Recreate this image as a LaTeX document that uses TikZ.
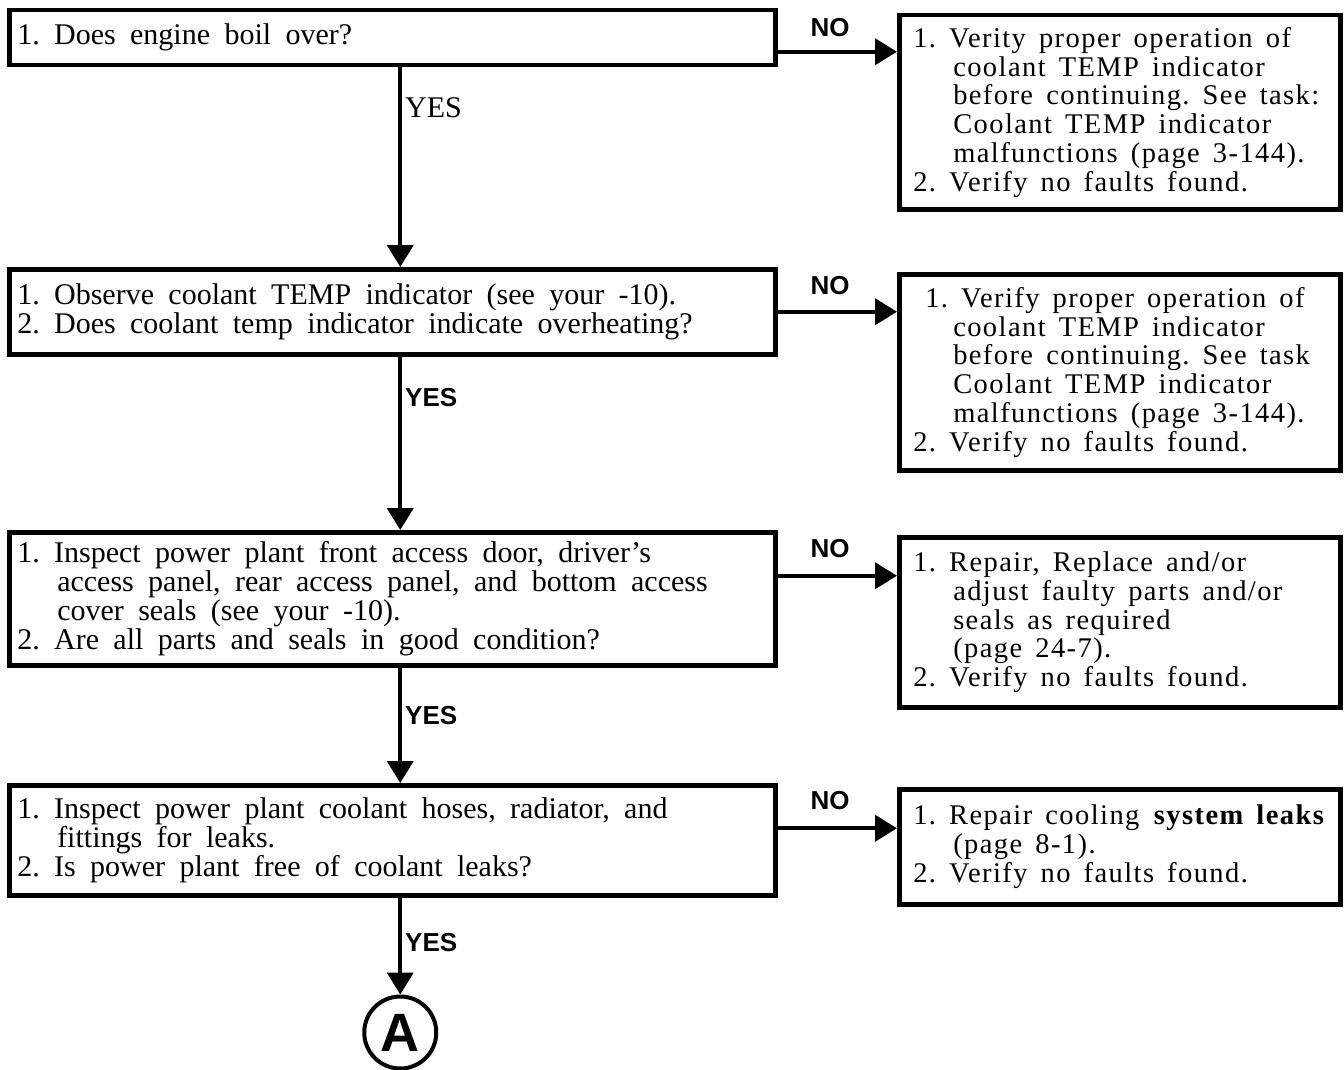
\documentclass[tikz,border=0pt]{standalone}
\usepackage{fontspec}
\setmainfont{Liberation Serif}
\setsansfont{Liberation Sans}
\newfontfamily\ansfamily[LetterSpace=5]{Liberation Serif}
\usetikzlibrary{arrows.meta,calc,positioning}
\frenchspacing
\newcommand{\qfont}{\fontsize{30}{29}\selectfont}
\newcommand{\afont}{\ansfamily\fontsize{28.5}{28.8}\selectfont}
\newcommand{\hind}{\hspace*{40pt}}
\tikzset{
  qbox/.style={draw,line width=4.5pt,anchor=north west,inner xsep=8pt,
    text width=750pt,align=left,font=\qfont,
    execute at begin node={\spaceskip=.48em\relax}},
  abox/.style={draw,line width=4.5pt,anchor=north west,inner xsep=14pt,
    text width=413pt,align=left,font=\afont,
    execute at begin node={\spaceskip=.46em\relax}},
  arr/.style={line width=4pt,-{Triangle[length=22pt,width=26pt]}},
  lbl/.style={font=\sffamily\bfseries\fontsize{26}{26}\selectfont,inner sep=0pt},
}

\begin{document}
\begin{tikzpicture}[x=1pt,y=-1pt]
  \useasboundingbox (0,0) rectangle (1344,1070);

  % questions
  \node[qbox,minimum height=55pt] (q1) at (7,8) {1. Does engine boil over?};
  \node[qbox,minimum height=85pt] (q2) at (7,267)
    {1. Observe coolant TEMP indicator (see your -10).\\
     2. Does coolant temp indicator indicate overheating?};
  \node[qbox,minimum height=133pt] (q3) at (7,530)
    {1. Inspect power plant front access door, driver’s\\
     \hind access panel, rear access panel, and bottom access\\
     \hind cover seals (see your -10).\\
     2. Are all parts and seals in good condition?};
  \node[qbox,minimum height=110pt] (q4) at (7,783)
    {1. Inspect power plant coolant hoses, radiator, and\\
     \hind fittings for leaks.\\
     2. Is power plant free of coolant leaks?};

  % answers
  \node[abox,minimum height=194pt] (r1) at (897,13)
    {1. Verity proper operation of\\
     \hind coolant TEMP indicator\\
     \hind before continuing. See task:\\
     \hind Coolant TEMP indicator\\
     \hind malfunctions (page 3-144).\\
     2. Verify no faults found.};
  \node[abox,minimum height=196pt] (r2) at (897,272)
    {\hspace*{12pt}1. Verify proper operation of\\
     \hind coolant TEMP indicator\\
     \hind before continuing. See task\\
     \hind Coolant TEMP indicator\\
     \hind malfunctions (page 3-144).\\
     2. Verify no faults found.};
  \node[abox,minimum height=170pt] (r3) at (897,535)
    {1. Repair, Replace and/or\\
     \hind adjust faulty parts and/or\\
     \hind seals as required\\
     \hind (page 24-7).\\
     2. Verify no faults found.};
  \node[abox,minimum height=115pt] (r4) at (897,787)
    {1. Repair cooling \textbf{system leaks}\\
     \hind (page 8-1).\\
     2. Verify no faults found.};

  \node[circle,draw,line width=4pt,minimum size=72pt,inner sep=0pt,
    font=\sffamily\bfseries\fontsize{54}{54}\selectfont,
    below=97pt of q4.south,xshift=8pt] (ca) {A};

  % yes branch
  \draw[arr] ([xshift=8pt]q1.south) -- ([xshift=8pt]q2.north);
  \draw[arr] ([xshift=8pt]q2.south) -- ([xshift=8pt]q3.north);
  \draw[arr] ([xshift=8pt]q3.south) -- ([xshift=8pt]q4.north);
  \draw[arr] ([xshift=8pt]q4.south) -- (ca.north);
  \node[font=\qfont,anchor=west,inner sep=0pt] (y1) at (405,108) {YES};
  \node[lbl,anchor=west] (y2) at (405,398) {YES};
  \node[lbl,anchor=west] (y3) at (405,716) {YES};
  \node[lbl,anchor=west] (y4) at (405,943) {YES};

  % no branch
  \draw[arr] ([yshift=-14pt]q1.east) -- ([yshift=-14pt]q1.east -| r1.west);
  \draw[arr] (q2.east) -- (q2.east -| r2.west);
  \draw[arr] ([yshift=23pt]q3.east) -- ([yshift=23pt]q3.east -| r3.west);
  \draw[arr] ([yshift=12pt]q4.east) -- ([yshift=12pt]q4.east -| r4.west);
  \node[lbl] (n1) at (830,28) {NO};
  \node[lbl] (n2) at (830,286) {NO};
  \node[lbl] (n3) at (830,549) {NO};
  \node[lbl] (n4) at (830,801) {NO};
\end{tikzpicture}
\end{document}
